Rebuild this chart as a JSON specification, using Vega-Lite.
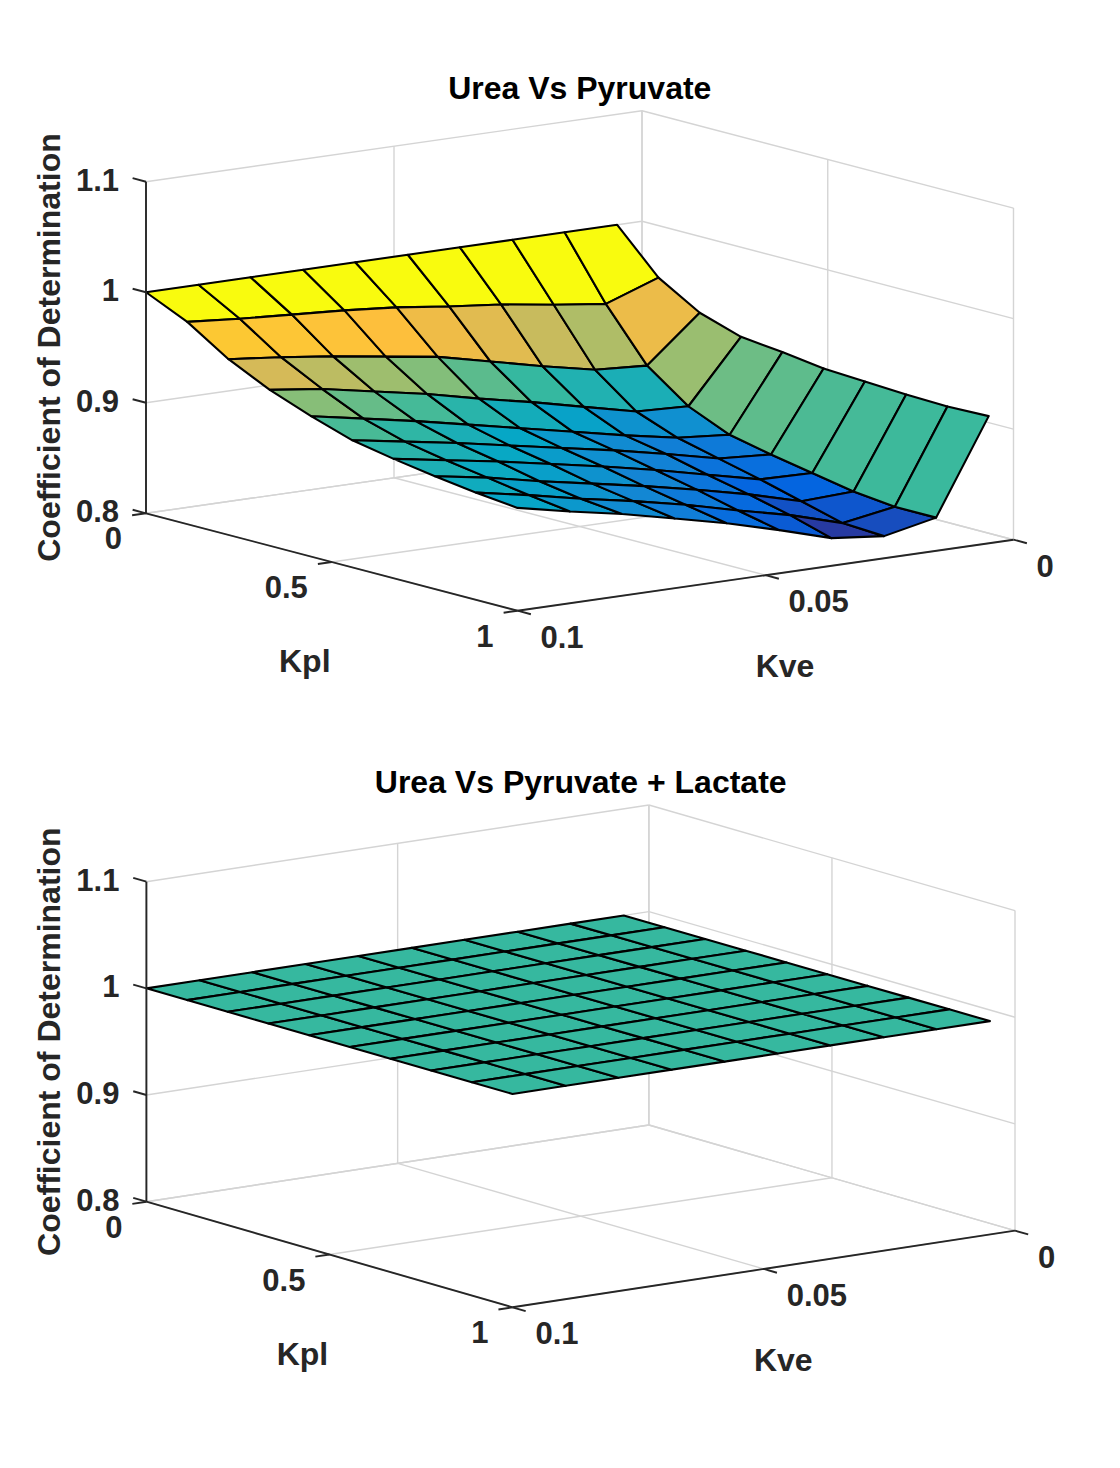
{
  "$schema": "https://vega.github.io/schema/vega-lite/v6.json",
  "width": 1120,
  "height": 1468,
  "autosize": {"type": "fit", "contains": "padding"},
  "padding": 0,
  "background": "white",
  "config": {"view": {"stroke": null}},
  "datasets": {
    "surf": [
      {"panel": "top", "kpl": 0, "kve": 0.1, "r2": 1}, {"panel": "top", "kpl": 0, "kve": 0.0894, "r2": 1}, {"panel": "top", "kpl": 0, "kve": 0.0789, "r2": 1}, {"panel": "top", "kpl": 0, "kve": 0.0683, "r2": 1}, {"panel": "top", "kpl": 0, "kve": 0.0578, "r2": 1},
      {"panel": "top", "kpl": 0, "kve": 0.0472, "r2": 1}, {"panel": "top", "kpl": 0, "kve": 0.0367, "r2": 1}, {"panel": "top", "kpl": 0, "kve": 0.0261, "r2": 1}, {"panel": "top", "kpl": 0, "kve": 0.0156, "r2": 1}, {"panel": "top", "kpl": 0, "kve": 0.005, "r2": 1},
      {"panel": "top", "kpl": 0.1111, "kve": 0.1, "r2": 0.983}, {"panel": "top", "kpl": 0.1111, "kve": 0.0894, "r2": 0.979}, {"panel": "top", "kpl": 0.1111, "kve": 0.0789, "r2": 0.976}, {"panel": "top", "kpl": 0.1111, "kve": 0.0683, "r2": 0.973}, {"panel": "top", "kpl": 0.1111, "kve": 0.0578, "r2": 0.969},
      {"panel": "top", "kpl": 0.1111, "kve": 0.0472, "r2": 0.963}, {"panel": "top", "kpl": 0.1111, "kve": 0.0367, "r2": 0.958}, {"panel": "top", "kpl": 0.1111, "kve": 0.0261, "r2": 0.951}, {"panel": "top", "kpl": 0.1111, "kve": 0.0156, "r2": 0.945}, {"panel": "top", "kpl": 0.1111, "kve": 0.005, "r2": 0.962},
      {"panel": "top", "kpl": 0.2222, "kve": 0.1, "r2": 0.959}, {"panel": "top", "kpl": 0.2222, "kve": 0.0894, "r2": 0.954}, {"panel": "top", "kpl": 0.2222, "kve": 0.0789, "r2": 0.948}, {"panel": "top", "kpl": 0.2222, "kve": 0.0683, "r2": 0.941}, {"panel": "top", "kpl": 0.2222, "kve": 0.0578, "r2": 0.934},
      {"panel": "top", "kpl": 0.2222, "kve": 0.0472, "r2": 0.923}, {"panel": "top", "kpl": 0.2222, "kve": 0.0367, "r2": 0.912}, {"panel": "top", "kpl": 0.2222, "kve": 0.0261, "r2": 0.902}, {"panel": "top", "kpl": 0.2222, "kve": 0.0156, "r2": 0.899}, {"panel": "top", "kpl": 0.2222, "kve": 0.005, "r2": 0.94},
      {"panel": "top", "kpl": 0.3333, "kve": 0.1, "r2": 0.941}, {"panel": "top", "kpl": 0.3333, "kve": 0.0894, "r2": 0.935}, {"panel": "top", "kpl": 0.3333, "kve": 0.0789, "r2": 0.926}, {"panel": "top", "kpl": 0.3333, "kve": 0.0683, "r2": 0.917}, {"panel": "top", "kpl": 0.3333, "kve": 0.0578, "r2": 0.906},
      {"panel": "top", "kpl": 0.3333, "kve": 0.0472, "r2": 0.896}, {"panel": "top", "kpl": 0.3333, "kve": 0.0367, "r2": 0.885}, {"panel": "top", "kpl": 0.3333, "kve": 0.0261, "r2": 0.874}, {"panel": "top", "kpl": 0.3333, "kve": 0.0156, "r2": 0.872}, {"panel": "top", "kpl": 0.3333, "kve": 0.005, "r2": 0.928},
      {"panel": "top", "kpl": 0.4444, "kve": 0.1, "r2": 0.927}, {"panel": "top", "kpl": 0.4444, "kve": 0.0894, "r2": 0.918}, {"panel": "top", "kpl": 0.4444, "kve": 0.0789, "r2": 0.909}, {"panel": "top", "kpl": 0.4444, "kve": 0.0683, "r2": 0.899}, {"panel": "top", "kpl": 0.4444, "kve": 0.0578, "r2": 0.889},
      {"panel": "top", "kpl": 0.4444, "kve": 0.0472, "r2": 0.879}, {"panel": "top", "kpl": 0.4444, "kve": 0.0367, "r2": 0.869}, {"panel": "top", "kpl": 0.4444, "kve": 0.0261, "r2": 0.86}, {"panel": "top", "kpl": 0.4444, "kve": 0.0156, "r2": 0.856}, {"panel": "top", "kpl": 0.4444, "kve": 0.005, "r2": 0.924},
      {"panel": "top", "kpl": 0.5556, "kve": 0.1, "r2": 0.915}, {"panel": "top", "kpl": 0.5556, "kve": 0.0894, "r2": 0.907}, {"panel": "top", "kpl": 0.5556, "kve": 0.0789, "r2": 0.899}, {"panel": "top", "kpl": 0.5556, "kve": 0.0683, "r2": 0.89}, {"panel": "top", "kpl": 0.5556, "kve": 0.0578, "r2": 0.881},
      {"panel": "top", "kpl": 0.5556, "kve": 0.0472, "r2": 0.872}, {"panel": "top", "kpl": 0.5556, "kve": 0.0367, "r2": 0.862}, {"panel": "top", "kpl": 0.5556, "kve": 0.0261, "r2": 0.851}, {"panel": "top", "kpl": 0.5556, "kve": 0.0156, "r2": 0.848}, {"panel": "top", "kpl": 0.5556, "kve": 0.005, "r2": 0.919},
      {"panel": "top", "kpl": 0.6667, "kve": 0.1, "r2": 0.908}, {"panel": "top", "kpl": 0.6667, "kve": 0.0894, "r2": 0.9}, {"panel": "top", "kpl": 0.6667, "kve": 0.0789, "r2": 0.892}, {"panel": "top", "kpl": 0.6667, "kve": 0.0683, "r2": 0.883}, {"panel": "top", "kpl": 0.6667, "kve": 0.0578, "r2": 0.874},
      {"panel": "top", "kpl": 0.6667, "kve": 0.0472, "r2": 0.864}, {"panel": "top", "kpl": 0.6667, "kve": 0.0367, "r2": 0.853}, {"panel": "top", "kpl": 0.6667, "kve": 0.0261, "r2": 0.842}, {"panel": "top", "kpl": 0.6667, "kve": 0.0156, "r2": 0.841}, {"panel": "top", "kpl": 0.6667, "kve": 0.005, "r2": 0.917},
      {"panel": "top", "kpl": 0.7778, "kve": 0.1, "r2": 0.902}, {"panel": "top", "kpl": 0.7778, "kve": 0.0894, "r2": 0.894}, {"panel": "top", "kpl": 0.7778, "kve": 0.0789, "r2": 0.884}, {"panel": "top", "kpl": 0.7778, "kve": 0.0683, "r2": 0.875}, {"panel": "top", "kpl": 0.7778, "kve": 0.0578, "r2": 0.866},
      {"panel": "top", "kpl": 0.7778, "kve": 0.0472, "r2": 0.856}, {"panel": "top", "kpl": 0.7778, "kve": 0.0367, "r2": 0.845}, {"panel": "top", "kpl": 0.7778, "kve": 0.0261, "r2": 0.832}, {"panel": "top", "kpl": 0.7778, "kve": 0.0156, "r2": 0.834}, {"panel": "top", "kpl": 0.7778, "kve": 0.005, "r2": 0.915},
      {"panel": "top", "kpl": 0.8889, "kve": 0.1, "r2": 0.897}, {"panel": "top", "kpl": 0.8889, "kve": 0.0894, "r2": 0.888}, {"panel": "top", "kpl": 0.8889, "kve": 0.0789, "r2": 0.878}, {"panel": "top", "kpl": 0.8889, "kve": 0.0683, "r2": 0.869}, {"panel": "top", "kpl": 0.8889, "kve": 0.0578, "r2": 0.859},
      {"panel": "top", "kpl": 0.8889, "kve": 0.0472, "r2": 0.847}, {"panel": "top", "kpl": 0.8889, "kve": 0.0367, "r2": 0.836}, {"panel": "top", "kpl": 0.8889, "kve": 0.0261, "r2": 0.822}, {"panel": "top", "kpl": 0.8889, "kve": 0.0156, "r2": 0.83}, {"panel": "top", "kpl": 0.8889, "kve": 0.005, "r2": 0.914},
      {"panel": "top", "kpl": 1, "kve": 0.1, "r2": 0.893}, {"panel": "top", "kpl": 1, "kve": 0.0894, "r2": 0.883}, {"panel": "top", "kpl": 1, "kve": 0.0789, "r2": 0.874}, {"panel": "top", "kpl": 1, "kve": 0.0683, "r2": 0.863}, {"panel": "top", "kpl": 1, "kve": 0.0578, "r2": 0.852},
      {"panel": "top", "kpl": 1, "kve": 0.0472, "r2": 0.839}, {"panel": "top", "kpl": 1, "kve": 0.0367, "r2": 0.825}, {"panel": "top", "kpl": 1, "kve": 0.0261, "r2": 0.82}, {"panel": "top", "kpl": 1, "kve": 0.0156, "r2": 0.83}, {"panel": "top", "kpl": 1, "kve": 0.005, "r2": 0.915},
      {"panel": "bottom", "kpl": 0, "kve": 0.1, "r2": 1}, {"panel": "bottom", "kpl": 0, "kve": 0.0894, "r2": 1}, {"panel": "bottom", "kpl": 0, "kve": 0.0789, "r2": 1}, {"panel": "bottom", "kpl": 0, "kve": 0.0683, "r2": 1}, {"panel": "bottom", "kpl": 0, "kve": 0.0578, "r2": 1},
      {"panel": "bottom", "kpl": 0, "kve": 0.0472, "r2": 1}, {"panel": "bottom", "kpl": 0, "kve": 0.0367, "r2": 1}, {"panel": "bottom", "kpl": 0, "kve": 0.0261, "r2": 1}, {"panel": "bottom", "kpl": 0, "kve": 0.0156, "r2": 1}, {"panel": "bottom", "kpl": 0, "kve": 0.005, "r2": 1},
      {"panel": "bottom", "kpl": 0.1111, "kve": 0.1, "r2": 1}, {"panel": "bottom", "kpl": 0.1111, "kve": 0.0894, "r2": 1}, {"panel": "bottom", "kpl": 0.1111, "kve": 0.0789, "r2": 1}, {"panel": "bottom", "kpl": 0.1111, "kve": 0.0683, "r2": 1}, {"panel": "bottom", "kpl": 0.1111, "kve": 0.0578, "r2": 1},
      {"panel": "bottom", "kpl": 0.1111, "kve": 0.0472, "r2": 1}, {"panel": "bottom", "kpl": 0.1111, "kve": 0.0367, "r2": 1}, {"panel": "bottom", "kpl": 0.1111, "kve": 0.0261, "r2": 1}, {"panel": "bottom", "kpl": 0.1111, "kve": 0.0156, "r2": 1}, {"panel": "bottom", "kpl": 0.1111, "kve": 0.005, "r2": 1},
      {"panel": "bottom", "kpl": 0.2222, "kve": 0.1, "r2": 1}, {"panel": "bottom", "kpl": 0.2222, "kve": 0.0894, "r2": 1}, {"panel": "bottom", "kpl": 0.2222, "kve": 0.0789, "r2": 1}, {"panel": "bottom", "kpl": 0.2222, "kve": 0.0683, "r2": 1}, {"panel": "bottom", "kpl": 0.2222, "kve": 0.0578, "r2": 1},
      {"panel": "bottom", "kpl": 0.2222, "kve": 0.0472, "r2": 1}, {"panel": "bottom", "kpl": 0.2222, "kve": 0.0367, "r2": 1}, {"panel": "bottom", "kpl": 0.2222, "kve": 0.0261, "r2": 1}, {"panel": "bottom", "kpl": 0.2222, "kve": 0.0156, "r2": 1}, {"panel": "bottom", "kpl": 0.2222, "kve": 0.005, "r2": 1},
      {"panel": "bottom", "kpl": 0.3333, "kve": 0.1, "r2": 1}, {"panel": "bottom", "kpl": 0.3333, "kve": 0.0894, "r2": 1}, {"panel": "bottom", "kpl": 0.3333, "kve": 0.0789, "r2": 1}, {"panel": "bottom", "kpl": 0.3333, "kve": 0.0683, "r2": 1}, {"panel": "bottom", "kpl": 0.3333, "kve": 0.0578, "r2": 1},
      {"panel": "bottom", "kpl": 0.3333, "kve": 0.0472, "r2": 1}, {"panel": "bottom", "kpl": 0.3333, "kve": 0.0367, "r2": 1}, {"panel": "bottom", "kpl": 0.3333, "kve": 0.0261, "r2": 1}, {"panel": "bottom", "kpl": 0.3333, "kve": 0.0156, "r2": 1}, {"panel": "bottom", "kpl": 0.3333, "kve": 0.005, "r2": 1},
      {"panel": "bottom", "kpl": 0.4444, "kve": 0.1, "r2": 1}, {"panel": "bottom", "kpl": 0.4444, "kve": 0.0894, "r2": 1}, {"panel": "bottom", "kpl": 0.4444, "kve": 0.0789, "r2": 1}, {"panel": "bottom", "kpl": 0.4444, "kve": 0.0683, "r2": 1}, {"panel": "bottom", "kpl": 0.4444, "kve": 0.0578, "r2": 1},
      {"panel": "bottom", "kpl": 0.4444, "kve": 0.0472, "r2": 1}, {"panel": "bottom", "kpl": 0.4444, "kve": 0.0367, "r2": 1}, {"panel": "bottom", "kpl": 0.4444, "kve": 0.0261, "r2": 1}, {"panel": "bottom", "kpl": 0.4444, "kve": 0.0156, "r2": 1}, {"panel": "bottom", "kpl": 0.4444, "kve": 0.005, "r2": 1},
      {"panel": "bottom", "kpl": 0.5556, "kve": 0.1, "r2": 1}, {"panel": "bottom", "kpl": 0.5556, "kve": 0.0894, "r2": 1}, {"panel": "bottom", "kpl": 0.5556, "kve": 0.0789, "r2": 1}, {"panel": "bottom", "kpl": 0.5556, "kve": 0.0683, "r2": 1}, {"panel": "bottom", "kpl": 0.5556, "kve": 0.0578, "r2": 1},
      {"panel": "bottom", "kpl": 0.5556, "kve": 0.0472, "r2": 1}, {"panel": "bottom", "kpl": 0.5556, "kve": 0.0367, "r2": 1}, {"panel": "bottom", "kpl": 0.5556, "kve": 0.0261, "r2": 1}, {"panel": "bottom", "kpl": 0.5556, "kve": 0.0156, "r2": 1}, {"panel": "bottom", "kpl": 0.5556, "kve": 0.005, "r2": 1},
      {"panel": "bottom", "kpl": 0.6667, "kve": 0.1, "r2": 1}, {"panel": "bottom", "kpl": 0.6667, "kve": 0.0894, "r2": 1}, {"panel": "bottom", "kpl": 0.6667, "kve": 0.0789, "r2": 1}, {"panel": "bottom", "kpl": 0.6667, "kve": 0.0683, "r2": 1}, {"panel": "bottom", "kpl": 0.6667, "kve": 0.0578, "r2": 1},
      {"panel": "bottom", "kpl": 0.6667, "kve": 0.0472, "r2": 1}, {"panel": "bottom", "kpl": 0.6667, "kve": 0.0367, "r2": 1}, {"panel": "bottom", "kpl": 0.6667, "kve": 0.0261, "r2": 1}, {"panel": "bottom", "kpl": 0.6667, "kve": 0.0156, "r2": 1}, {"panel": "bottom", "kpl": 0.6667, "kve": 0.005, "r2": 1},
      {"panel": "bottom", "kpl": 0.7778, "kve": 0.1, "r2": 1}, {"panel": "bottom", "kpl": 0.7778, "kve": 0.0894, "r2": 1}, {"panel": "bottom", "kpl": 0.7778, "kve": 0.0789, "r2": 1}, {"panel": "bottom", "kpl": 0.7778, "kve": 0.0683, "r2": 1}, {"panel": "bottom", "kpl": 0.7778, "kve": 0.0578, "r2": 1},
      {"panel": "bottom", "kpl": 0.7778, "kve": 0.0472, "r2": 1}, {"panel": "bottom", "kpl": 0.7778, "kve": 0.0367, "r2": 1}, {"panel": "bottom", "kpl": 0.7778, "kve": 0.0261, "r2": 1}, {"panel": "bottom", "kpl": 0.7778, "kve": 0.0156, "r2": 1}, {"panel": "bottom", "kpl": 0.7778, "kve": 0.005, "r2": 1},
      {"panel": "bottom", "kpl": 0.8889, "kve": 0.1, "r2": 1}, {"panel": "bottom", "kpl": 0.8889, "kve": 0.0894, "r2": 1}, {"panel": "bottom", "kpl": 0.8889, "kve": 0.0789, "r2": 1}, {"panel": "bottom", "kpl": 0.8889, "kve": 0.0683, "r2": 1}, {"panel": "bottom", "kpl": 0.8889, "kve": 0.0578, "r2": 1},
      {"panel": "bottom", "kpl": 0.8889, "kve": 0.0472, "r2": 1}, {"panel": "bottom", "kpl": 0.8889, "kve": 0.0367, "r2": 1}, {"panel": "bottom", "kpl": 0.8889, "kve": 0.0261, "r2": 1}, {"panel": "bottom", "kpl": 0.8889, "kve": 0.0156, "r2": 1}, {"panel": "bottom", "kpl": 0.8889, "kve": 0.005, "r2": 1},
      {"panel": "bottom", "kpl": 1, "kve": 0.1, "r2": 1}, {"panel": "bottom", "kpl": 1, "kve": 0.0894, "r2": 1}, {"panel": "bottom", "kpl": 1, "kve": 0.0789, "r2": 1}, {"panel": "bottom", "kpl": 1, "kve": 0.0683, "r2": 1}, {"panel": "bottom", "kpl": 1, "kve": 0.0578, "r2": 1},
      {"panel": "bottom", "kpl": 1, "kve": 0.0472, "r2": 1}, {"panel": "bottom", "kpl": 1, "kve": 0.0367, "r2": 1}, {"panel": "bottom", "kpl": 1, "kve": 0.0261, "r2": 1}, {"panel": "bottom", "kpl": 1, "kve": 0.0156, "r2": 1}, {"panel": "bottom", "kpl": 1, "kve": 0.005, "r2": 1}
    ],
    "ticks": [
      {"panel": "top", "axis": "z", "v": 0.8, "label": "0.8"}, {"panel": "top", "axis": "z", "v": 0.9, "label": "0.9"}, {"panel": "top", "axis": "z", "v": 1, "label": "1"}, {"panel": "top", "axis": "z", "v": 1.1, "label": "1.1"},
      {"panel": "top", "axis": "kpl", "v": 0, "label": "0"}, {"panel": "top", "axis": "kpl", "v": 0.5, "label": "0.5"}, {"panel": "top", "axis": "kpl", "v": 1, "label": "1"},
      {"panel": "top", "axis": "kve", "v": 0, "label": "0"}, {"panel": "top", "axis": "kve", "v": 0.05, "label": "0.05"}, {"panel": "top", "axis": "kve", "v": 0.1, "label": "0.1"},
      {"panel": "bottom", "axis": "z", "v": 0.8, "label": "0.8"}, {"panel": "bottom", "axis": "z", "v": 0.9, "label": "0.9"}, {"panel": "bottom", "axis": "z", "v": 1, "label": "1"}, {"panel": "bottom", "axis": "z", "v": 1.1, "label": "1.1"},
      {"panel": "bottom", "axis": "kpl", "v": 0, "label": "0"}, {"panel": "bottom", "axis": "kpl", "v": 0.5, "label": "0.5"}, {"panel": "bottom", "axis": "kpl", "v": 1, "label": "1"},
      {"panel": "bottom", "axis": "kve", "v": 0, "label": "0"}, {"panel": "bottom", "axis": "kve", "v": 0.05, "label": "0.05"}, {"panel": "bottom", "axis": "kve", "v": 0.1, "label": "0.1"}
    ],
    "names": [
      {"panel": "top", "role": "title", "text": "Urea Vs Pyruvate"},
      {"panel": "top", "role": "kpl", "text": "Kpl"},
      {"panel": "top", "role": "kve", "text": "Kve"},
      {"panel": "top", "role": "z", "text": "Coefficient of Determination"},
      {"panel": "bottom", "role": "title", "text": "Urea Vs Pyruvate + Lactate"},
      {"panel": "bottom", "role": "kpl", "text": "Kpl"},
      {"panel": "bottom", "role": "kve", "text": "Kve"},
      {"panel": "bottom", "role": "z", "text": "Coefficient of Determination"}
    ]
  },
  "encoding": {
    "x": {"field": "sx", "type": "quantitative", "scale": {"domain": [0, 1120], "nice": false, "zero": false}, "axis": null},
    "y": {"field": "sy", "type": "quantitative", "scale": {"domain": [0, 1468], "nice": false, "zero": false, "reverse": true}, "axis": null}
  },
  "layer": [
    {
      "data": {"name": "ticks"},
      "transform": [
        {"calculate": "datum.axis == 'kpl' ? datum.v : 0", "as": "pa"},
        {"calculate": "datum.axis == 'z' ? 0 : (datum.axis == 'kve' ? 1 - 10 * datum.v : 1)", "as": "qa"},
        {"calculate": "datum.axis == 'z' ? datum.v : 0.8", "as": "za"},
        {"calculate": "datum.axis == 'z' ? 1 : datum.qa", "as": "qb"},
        {"calculate": "datum.axis == 'z' ? datum.v : 1.1", "as": "zb"},
        {"calculate": "datum.panel == 'top' ? 146 + 371.5 * datum.pa + 496 * datum.qa : 146.4 + 366.1 * datum.pa + 502.5 * datum.qa", "as": "sx"},
        {"calculate": "datum.panel == 'top' ? 513.3 + 97.4 * datum.pa - 71 * datum.qa - 1105.3 * (datum.za - 0.8) : 1201.7 + 105.6 * datum.pa - 76.7 * datum.qa - 1066.7 * (datum.za - 0.8)", "as": "sy"},
        {"calculate": "datum.panel == 'top' ? 146 + 371.5 * datum.pa + 496 * datum.qb : 146.4 + 366.1 * datum.pa + 502.5 * datum.qb", "as": "sx2"},
        {"calculate": "datum.panel == 'top' ? 513.3 + 97.4 * datum.pa - 71 * datum.qb - 1105.3 * (datum.zb - 0.8) : 1201.7 + 105.6 * datum.pa - 76.7 * datum.qb - 1066.7 * (datum.zb - 0.8)", "as": "sy2"}
      ],
      "mark": {"type": "rule", "color": "#d4d4d4", "strokeWidth": 1.4},
      "encoding": {"x2": {"field": "sx2"}, "y2": {"field": "sy2"}}
    },
    {
      "data": {"name": "ticks"},
      "transform": [
        {"calculate": "datum.axis == 'kpl' ? datum.v : 0", "as": "pa"},
        {"calculate": "datum.axis == 'kpl' ? datum.v : 1", "as": "pb"},
        {"calculate": "datum.axis == 'z' ? 1 : (datum.axis == 'kve' ? 1 - 10 * datum.v : 0)", "as": "qa"},
        {"calculate": "datum.axis == 'z' ? 1 : (datum.axis == 'kve' ? 1 - 10 * datum.v : 1)", "as": "qb"},
        {"calculate": "datum.axis == 'z' ? datum.v : 0.8", "as": "za"},
        {"calculate": "datum.panel == 'top' ? 146 + 371.5 * datum.pa + 496 * datum.qa : 146.4 + 366.1 * datum.pa + 502.5 * datum.qa", "as": "sx"},
        {"calculate": "datum.panel == 'top' ? 513.3 + 97.4 * datum.pa - 71 * datum.qa - 1105.3 * (datum.za - 0.8) : 1201.7 + 105.6 * datum.pa - 76.7 * datum.qa - 1066.7 * (datum.za - 0.8)", "as": "sy"},
        {"calculate": "datum.panel == 'top' ? 146 + 371.5 * datum.pb + 496 * datum.qb : 146.4 + 366.1 * datum.pb + 502.5 * datum.qb", "as": "sx2"},
        {"calculate": "datum.panel == 'top' ? 513.3 + 97.4 * datum.pb - 71 * datum.qb - 1105.3 * (datum.za - 0.8) : 1201.7 + 105.6 * datum.pb - 76.7 * datum.qb - 1066.7 * (datum.za - 0.8)", "as": "sy2"}
      ],
      "mark": {"type": "rule", "color": "#d4d4d4", "strokeWidth": 1.4},
      "encoding": {"x2": {"field": "sx2"}, "y2": {"field": "sy2"}}
    },
    {
      "data": {"name": "surf"},
      "transform": [
        {"window": [{"op": "lead", "field": "r2", "as": "r2_p"}, {"op": "lead", "field": "kpl", "as": "kpl_p"}], "groupby": ["panel", "kve"], "sort": [{"field": "kpl", "order": "ascending"}]},
        {"window": [{"op": "lead", "field": "r2", "as": "r2_q"}, {"op": "lead", "field": "kve", "as": "kve_q"}, {"op": "lead", "field": "r2_p", "as": "r2_pq"}], "groupby": ["panel", "kpl"], "sort": [{"field": "kve", "order": "ascending"}]},
        {"filter": "isValid(datum.r2_pq)"},
        {"calculate": "datum.panel + '|' + datum.kpl + '|' + datum.kve", "as": "cell"},
        {"fold": ["r2", "r2_p", "r2_pq", "r2_q"], "as": ["corner", "cz"]},
        {"calculate": "indexof(['r2', 'r2_p', 'r2_pq', 'r2_q'], datum.corner)", "as": "ord"},
        {"calculate": "datum.corner == 'r2_p' || datum.corner == 'r2_pq' ? datum.kpl_p : datum.kpl", "as": "pa"},
        {"calculate": "1 - 10 * (datum.corner == 'r2_q' || datum.corner == 'r2_pq' ? datum.kve_q : datum.kve)", "as": "qa"},
        {"calculate": "datum.panel == 'top' ? 146 + 371.5 * datum.pa + 496 * datum.qa : 146.4 + 366.1 * datum.pa + 502.5 * datum.qa", "as": "sx"},
        {"calculate": "datum.panel == 'top' ? 513.3 + 97.4 * datum.pa - 71 * datum.qa - 1105.3 * (datum.cz - 0.8) : 1201.7 + 105.6 * datum.pa - 76.7 * datum.qa - 1066.7 * (datum.cz - 0.8)", "as": "sy"}
      ],
      "mark": {"type": "line", "interpolate": "linear-closed", "stroke": "#000000", "strokeWidth": 2.1, "strokeJoin": "round"},
      "encoding": {
        "detail": {"field": "cell", "type": "nominal"},
        "order": {"field": "ord", "type": "quantitative"},
        "fill": {
          "condition": {"test": "datum.panel == 'bottom'", "value": "#36b89f"},
          "field": "r2",
          "type": "quantitative",
          "scale": {
            "domain": [0.815, 0.8396, 0.8643, 0.8889, 0.9135, 0.9381, 0.955, 0.968, 0.985, 1],
            "range": ["#352a87", "#0363e1", "#1485d4", "#06a7c6", "#38b99e", "#92bf73", "#d9ba56", "#fdbe3d", "#fcce2e", "#f9fb0e"],
            "interpolate": "rgb",
            "zero": false,
            "nice": false
          },
          "legend": null
        }
      }
    },
    {
      "data": {"name": "ticks"},
      "transform": [
        {"aggregate": [{"op": "min", "field": "v", "as": "lo"}, {"op": "max", "field": "v", "as": "hi"}], "groupby": ["panel", "axis"]},
        {"calculate": "datum.axis == 'kpl' ? datum.lo : (datum.axis == 'kve' ? 1 : 0)", "as": "pa"},
        {"calculate": "datum.axis == 'kpl' ? datum.hi : (datum.axis == 'kve' ? 1 : 0)", "as": "pb"},
        {"calculate": "datum.axis == 'kve' ? 1 - 10 * datum.lo : 0", "as": "qa"},
        {"calculate": "datum.axis == 'kve' ? 1 - 10 * datum.hi : 0", "as": "qb"},
        {"calculate": "datum.axis == 'z' ? datum.lo : 0.8", "as": "za"},
        {"calculate": "datum.axis == 'z' ? datum.hi : 0.8", "as": "zb"},
        {"calculate": "datum.panel == 'top' ? 146 + 371.5 * datum.pa + 496 * datum.qa : 146.4 + 366.1 * datum.pa + 502.5 * datum.qa", "as": "sx"},
        {"calculate": "datum.panel == 'top' ? 513.3 + 97.4 * datum.pa - 71 * datum.qa - 1105.3 * (datum.za - 0.8) : 1201.7 + 105.6 * datum.pa - 76.7 * datum.qa - 1066.7 * (datum.za - 0.8)", "as": "sy"},
        {"calculate": "datum.panel == 'top' ? 146 + 371.5 * datum.pb + 496 * datum.qb : 146.4 + 366.1 * datum.pb + 502.5 * datum.qb", "as": "sx2"},
        {"calculate": "datum.panel == 'top' ? 513.3 + 97.4 * datum.pb - 71 * datum.qb - 1105.3 * (datum.zb - 0.8) : 1201.7 + 105.6 * datum.pb - 76.7 * datum.qb - 1066.7 * (datum.zb - 0.8)", "as": "sy2"}
      ],
      "mark": {"type": "rule", "color": "#262626", "strokeWidth": 1.9},
      "encoding": {"x2": {"field": "sx2"}, "y2": {"field": "sy2"}}
    },
    {
      "data": {"name": "ticks"},
      "transform": [
        {"calculate": "datum.axis == 'kpl' ? datum.v : (datum.axis == 'kve' ? 1 : 0)", "as": "pa"},
        {"calculate": "datum.axis == 'z' ? -0.036 : (datum.axis == 'kve' ? 1.036 : datum.v)", "as": "pb"},
        {"calculate": "datum.axis == 'kve' ? 1 - 10 * datum.v : 0", "as": "qa"},
        {"calculate": "datum.axis == 'kpl' ? -0.028 : datum.qa", "as": "qb"},
        {"calculate": "datum.axis == 'z' ? datum.v : 0.8", "as": "za"},
        {"calculate": "datum.panel == 'top' ? 146 + 371.5 * datum.pa + 496 * datum.qa : 146.4 + 366.1 * datum.pa + 502.5 * datum.qa", "as": "sx"},
        {"calculate": "datum.panel == 'top' ? 513.3 + 97.4 * datum.pa - 71 * datum.qa - 1105.3 * (datum.za - 0.8) : 1201.7 + 105.6 * datum.pa - 76.7 * datum.qa - 1066.7 * (datum.za - 0.8)", "as": "sy"},
        {"calculate": "datum.panel == 'top' ? 146 + 371.5 * datum.pb + 496 * datum.qb : 146.4 + 366.1 * datum.pb + 502.5 * datum.qb", "as": "sx2"},
        {"calculate": "datum.panel == 'top' ? 513.3 + 97.4 * datum.pb - 71 * datum.qb - 1105.3 * (datum.za - 0.8) : 1201.7 + 105.6 * datum.pb - 76.7 * datum.qb - 1066.7 * (datum.za - 0.8)", "as": "sy2"}
      ],
      "mark": {"type": "rule", "color": "#262626", "strokeWidth": 1.9},
      "encoding": {"x2": {"field": "sx2"}, "y2": {"field": "sy2"}}
    },
    {
      "data": {"name": "ticks"},
      "transform": [
        {"filter": "datum.axis == 'z'"},
        {"calculate": "datum.panel == 'top' ? 146 : 146.4", "as": "sx"},
        {"calculate": "datum.panel == 'top' ? 513.3 - 1105.3 * (datum.v - 0.8) : 1201.7 - 1066.7 * (datum.v - 0.8)", "as": "sy"}
      ],
      "mark": {"type": "text", "font": "Liberation Sans", "fontWeight": "bold", "fontSize": 31, "color": "#262626", "align": "right", "baseline": "middle", "dx": -27},
      "encoding": {"text": {"field": "label", "type": "nominal"}}
    },
    {
      "data": {"name": "ticks"},
      "transform": [
        {"filter": "datum.axis == 'kpl'"},
        {"calculate": "datum.panel == 'top' ? 146 + 371.5 * datum.v : 146.4 + 366.1 * datum.v", "as": "sx"},
        {"calculate": "datum.panel == 'top' ? 513.3 + 97.4 * datum.v : 1201.7 + 105.6 * datum.v", "as": "sy"}
      ],
      "mark": {"type": "text", "font": "Liberation Sans", "fontWeight": "bold", "fontSize": 31, "color": "#262626", "align": "right", "baseline": "middle", "dx": -24, "dy": 27},
      "encoding": {"text": {"field": "label", "type": "nominal"}}
    },
    {
      "data": {"name": "ticks"},
      "transform": [
        {"filter": "datum.axis == 'kve'"},
        {"calculate": "1 - 10 * datum.v", "as": "qa"},
        {"calculate": "datum.panel == 'top' ? 146 + 371.5 + 496 * datum.qa : 146.4 + 366.1 + 502.5 * datum.qa", "as": "sx"},
        {"calculate": "datum.panel == 'top' ? 513.3 + 97.4 - 71 * datum.qa : 1201.7 + 105.6 - 76.7 * datum.qa", "as": "sy"}
      ],
      "mark": {"type": "text", "font": "Liberation Sans", "fontWeight": "bold", "fontSize": 31, "color": "#262626", "align": "left", "baseline": "middle", "dx": 23, "dy": 28},
      "encoding": {"text": {"field": "label", "type": "nominal"}}
    },
    {
      "data": {"name": "names"},
      "transform": [
        {"filter": "datum.role != 'z'"},
        {"calculate": "datum.role == 'kve' ? 1 : 0.5", "as": "pa"},
        {"calculate": "datum.role == 'kpl' ? 0 : 0.5", "as": "qa"},
        {"calculate": "(datum.panel == 'top' ? 146 + 371.5 * datum.pa + 496 * datum.qa : 146.4 + 366.1 * datum.pa + 502.5 * datum.qa) + (datum.role == 'kpl' ? -27 : (datum.role == 'kve' ? 19.5 : 0))", "as": "sx"},
        {"calculate": "datum.role == 'title' ? (datum.panel == 'top' ? 513.3 - 71 - 331.6 : 1201.7 - 76.7 - 320) - 22 : (datum.panel == 'top' ? 513.3 + 97.4 * datum.pa - 71 * datum.qa : 1201.7 + 105.6 * datum.pa - 76.7 * datum.qa) + (datum.role == 'kpl' ? 100 : 92)", "as": "sy"}
      ],
      "mark": {"type": "text", "font": "Liberation Sans", "fontWeight": "bold", "fontSize": 32, "align": "center", "baseline": "middle"},
      "encoding": {
        "text": {"field": "text", "type": "nominal"},
        "color": {"condition": {"test": "datum.role == 'title'", "value": "#000000"}, "value": "#262626"}
      }
    },
    {
      "data": {"name": "names"},
      "transform": [
        {"filter": "datum.role == 'z'"},
        {"calculate": "datum.panel == 'top' ? 146 - 96 : 146.4 - 96", "as": "sx"},
        {"calculate": "datum.panel == 'top' ? 513.3 - 1105.3 * 0.15 : 1201.7 - 1066.7 * 0.15", "as": "sy"}
      ],
      "mark": {"type": "text", "font": "Liberation Sans", "fontWeight": "bold", "fontSize": 32, "color": "#262626", "align": "center", "baseline": "middle", "angle": 270},
      "encoding": {"text": {"field": "text", "type": "nominal"}}
    }
  ]
}
